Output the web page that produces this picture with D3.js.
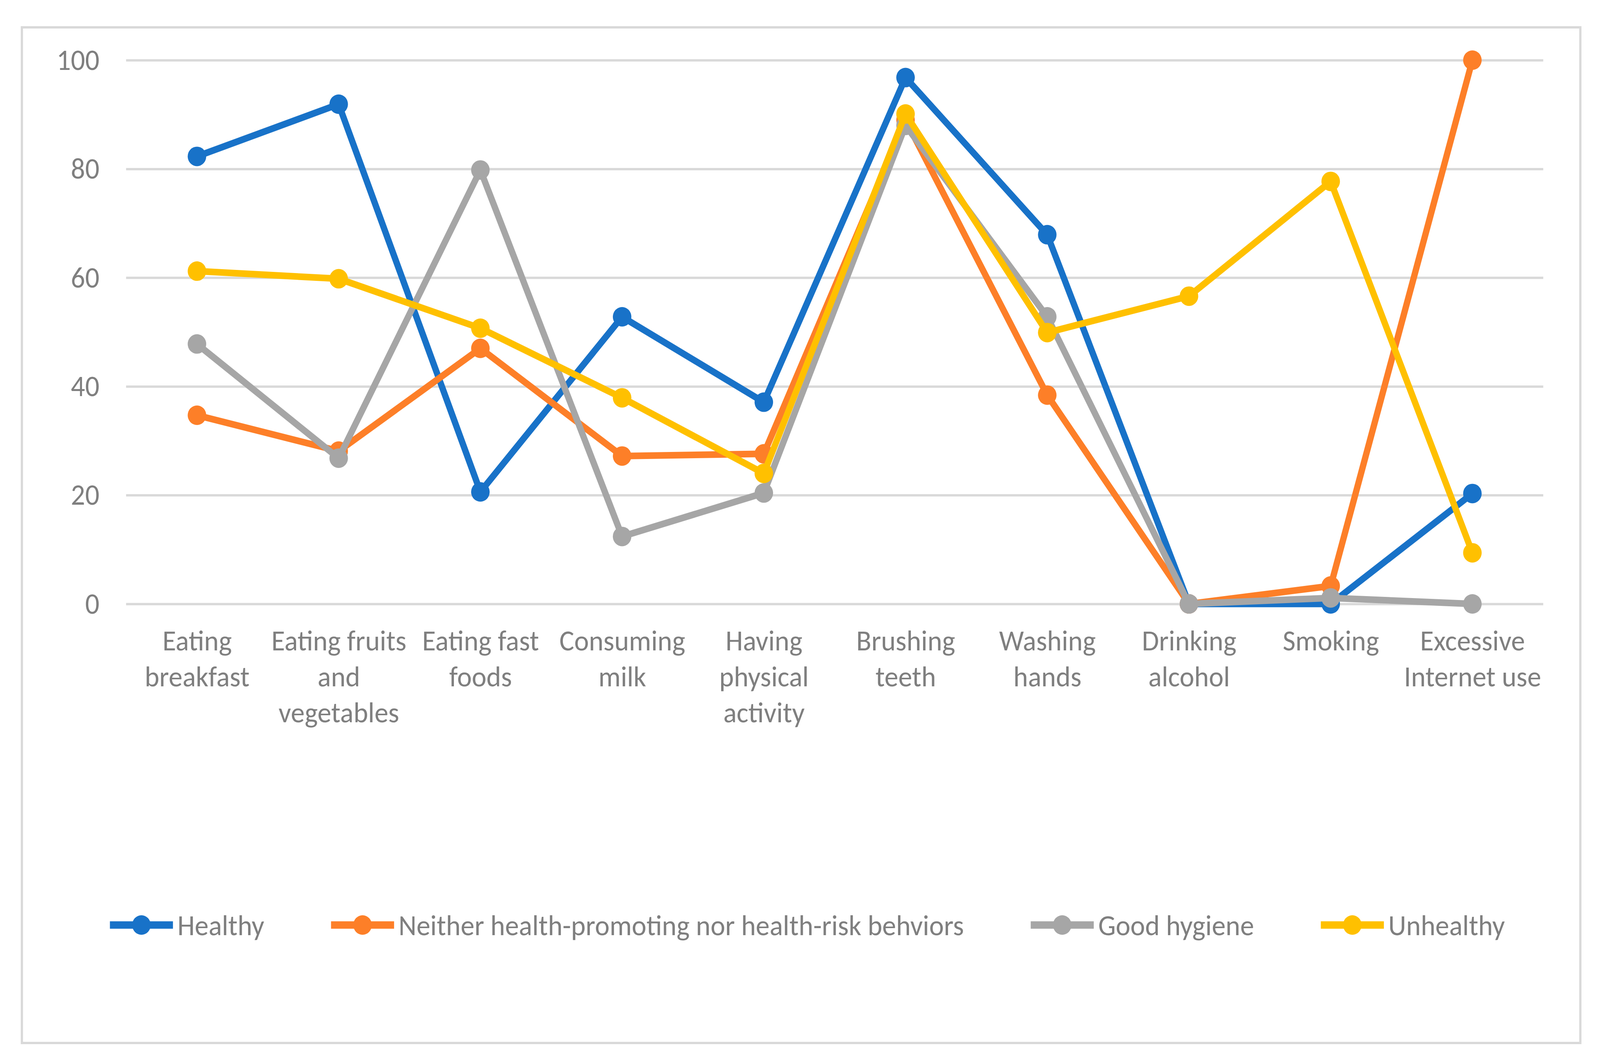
<!DOCTYPE html>
<html>
<head>
<meta charset="utf-8">
<script src="https://cdn.jsdelivr.net/npm/d3@7"></script>
<style>
  html, body { margin: 0; padding: 0; background: #fff; overflow: hidden; }
  svg { display: block; width: 100vw; height: 100vh; }
  text { font-family: Carlito, Calibri, "Liberation Sans Narrow", "Arial Narrow", sans-serif; fill: #7f7f7f; }
</style>
</head>
<body>
<script>
// categories (each split into the lines shown under the axis)
const categories = ["Eating breakfast", "Eating fruits and vegetables", "Eating fast foods", "Consuming milk",
  "Having physical activity", "Brushing teeth", "Washing hands", "Drinking alcohol", "Smoking", "Excessive Internet use"];
const categoryLines = [["Eating", "breakfast"], ["Eating fruits", "and", "vegetables"], ["Eating fast", "foods"],
  ["Consuming", "milk"], ["Having", "physical", "activity"], ["Brushing", "teeth"], ["Washing", "hands"],
  ["Drinking", "alcohol"], ["Smoking"], ["Excessive", "Internet use"]];

// series
const seriesNames = ["Healthy", "Neither health-promoting nor health-risk behviors", "Good hygiene", "Unhealthy"];
const seriesColors = ["#1872c8", "#fd7f28", "#a6a6a6", "#ffc000"];
const healthy   = [82.3, 91.9, 20.6, 52.8, 37.1, 96.8, 67.9, 0, 0, 20.3];
const neither   = [34.7, 28.1, 47.0, 27.2, 27.6, 89.0, 38.4, 0, 3.3, 100];
const hygiene   = [47.8, 26.8, 79.8, 12.4, 20.4, 88.0, 52.8, 0, 1.1, 0];
const unhealthy = [61.2, 59.8, 50.7, 37.9, 24.0, 90.1, 49.9, 56.6, 77.7, 9.4];
const seriesValues = [healthy, neither, hygiene, unhealthy];

// y ticks
const yTicks = [0, 20, 40, 60, 80, 100];

const W = 4314, H = 2711;
const plot = { left: 340, right: 4161, top: 154, bottom: 1546 };
const fontSize = 75;

// stretch to whatever the window is so the frame is filled like the original
const svg = d3.select("body").append("svg")
  .attr("viewBox", `0 0 ${W} ${H}`)
  .attr("preserveAspectRatio", "none");

// outer chart border
svg.append("rect")
  .attr("x", 59).attr("y", 70)
  .attr("width", 4202).attr("height", 2600)
  .attr("fill", "#fff").attr("stroke", "#d9d9d9").attr("stroke-width", 6);

const x = d3.scalePoint().domain(categories).range([plot.left, plot.right]).padding(0.5);
const y = d3.scaleLinear().domain([0, 100]).range([plot.bottom, plot.top]);

// gridlines + y labels
const yAxis = svg.append("g")
  .attr("transform", `translate(${plot.left},0)`)
  .call(d3.axisLeft(y).tickValues(yTicks).tickSize(-(plot.right - plot.left)).tickPadding(72));
yAxis.select(".domain").remove();
yAxis.selectAll(".tick line").attr("stroke", "#d9d9d9").attr("stroke-width", 6);
yAxis.selectAll(".tick text")
  .attr("font-size", 76)
  .attr("fill", "#7f7f7f")
  .attr("font-family", null);

// x labels (multi-line)
const xAxis = svg.append("g")
  .attr("transform", `translate(0,${plot.bottom})`)
  .call(d3.axisBottom(x).tickSize(0).tickFormat(""));
xAxis.select(".domain").remove();
xAxis.selectAll(".tick").each(function (d, i) {
  const t = d3.select(this).append("text")
    .attr("text-anchor", "middle")
    .attr("font-size", fontSize);
  t.selectAll("tspan").data(categoryLines[i]).join("tspan")
    .attr("x", 0)
    .attr("y", (l, j) => 119 + j * 92)
    .text(l => l);
});

// lines and markers
const line = d3.line().x((v, i) => x(categories[i])).y(v => y(v));

seriesValues.forEach((vals, s) => {
  const g = svg.append("g");
  g.append("path")
    .datum(vals)
    .attr("d", line)
    .attr("fill", "none")
    .attr("stroke", seriesColors[s])
    .attr("stroke-width", 17)
    .attr("stroke-linejoin", "round");
  g.selectAll("circle").data(vals).join("circle")
    .attr("cx", (v, i) => x(categories[i]))
    .attr("cy", v => y(v))
    .attr("r", 25)
    .attr("fill", seriesColors[s]);
});

// legend
const legendY = 2368, swatchW = 170, textGap = 12, itemGap = 180;
const legend = svg.append("g");
const items = legend.selectAll("g").data(seriesNames).join("g");
items.append("line")
  .attr("x1", 0).attr("x2", swatchW)
  .attr("y1", 0).attr("y2", 0)
  .attr("stroke", (d, i) => seriesColors[i])
  .attr("stroke-width", 19);
items.append("circle")
  .attr("cx", swatchW / 2).attr("cy", 0).attr("r", 25)
  .attr("fill", (d, i) => seriesColors[i]);
items.append("text")
  .attr("x", swatchW + textGap)
  .attr("dy", "0.35em")
  .attr("font-size", fontSize)
  .text(d => d);

let cx = 0;
const widths = [];
items.each(function () {
  widths.push(swatchW + textGap + d3.select(this).select("text").node().getComputedTextLength());
});
const total = d3.sum(widths) + itemGap * (widths.length - 1);
cx = 2177 - total / 2;
items.each(function (d, i) {
  d3.select(this).attr("transform", `translate(${cx},${legendY})`);
  cx += widths[i] + itemGap;
});
</script>
</body>
</html>
